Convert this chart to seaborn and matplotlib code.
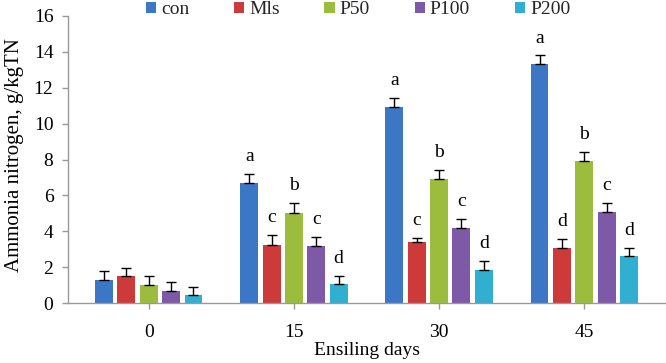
import numpy as np
import pandas as pd
import matplotlib
matplotlib.use("Agg")
import matplotlib.pyplot as plt
import seaborn as sns

# === Données ===
days = ["0", "15", "30", "45"]
treatments = ["con", "Mls", "P50", "P100", "P200"]

con = [1.30, 6.69, 10.93, 13.30]
mls = [1.49, 3.26, 3.40, 3.09]
p50 = [1.00, 5.04, 6.93, 7.92]
p100 = [0.69, 3.18, 4.18, 5.07]
p200 = [0.43, 1.04, 1.86, 2.60]

err_con = [0.48, 0.52, 0.52, 0.50]
err_mls = [0.48, 0.52, 0.25, 0.50]
err_p50 = [0.48, 0.53, 0.50, 0.50]
err_p100 = [0.48, 0.50, 0.48, 0.50]
err_p200 = [0.48, 0.48, 0.46, 0.48]

lettres_con = ["", "a", "a", "a"]
lettres_mls = ["", "c", "c", "d"]
lettres_p50 = ["", "b", "b", "b"]
lettres_p100 = ["", "c", "c", "c"]
lettres_p200 = ["", "d", "d", "d"]

couleurs = ["#3b77c4", "#cd3a3a", "#9cbc3e", "#7e59a7", "#30afd0"]

valeurs = [con, mls, p50, p100, p200]
erreurs = [err_con, err_mls, err_p50, err_p100, err_p200]
lettres = [lettres_con, lettres_mls, lettres_p50, lettres_p100, lettres_p200]

df = pd.DataFrame({
    "jour": [d for _ in treatments for d in days],
    "traitement": [t for t in treatments for _ in days],
    "valeur": [v for serie in valeurs for v in serie],
})

# === Figure ===
sns.set_theme(style="white")
plt.rcParams["font.family"] = ["Liberation Serif", "DejaVu Serif"]
plt.rcParams["font.size"] = 14
taille = 14

fig = plt.figure(figsize=(6.66, 3.63), dpi=100)
ax = fig.add_axes([68 / 666, 1 - 303 / 363, 597 / 666, 287 / 363])

sns.barplot(data=df, x="jour", y="valeur", hue="traitement", order=days,
            hue_order=treatments, palette=couleurs, saturation=1,
            width=0.77, gap=0.2, errorbar=None, linewidth=0, ax=ax)

# barres d'erreur (moitié haute) et lettres
conteneurs = list(ax.containers)
for i, cont in enumerate(conteneurs):
    for j, barre in enumerate(cont):
        x = barre.get_x() + barre.get_width() / 2
        h = barre.get_height()
        e = erreurs[i][j]
        ax.errorbar(x, h, yerr=[[0], [e]], fmt="none", ecolor="black",
                    elinewidth=1, capsize=3.5, capthick=1)
        if lettres[i][j]:
            ax.text(x, h + e + 0.72, lettres[i][j], ha="center", va="baseline",
                    fontsize=taille, color="black")

ax.set_ylim(0, 16)
ax.set_yticks(np.arange(0, 17, 2))
ax.set_ylabel("Ammonia nitrogen, g/kgTN", fontsize=15, color="black")
ax.yaxis.set_label_coords(-44 / 597, 0.516)
ax.set_xlabel("Ensiling days", fontsize=taille, labelpad=1, color="black")
ax.tick_params(axis="both", labelsize=taille, colors="#999999", labelcolor="black",
               length=4, width=1, direction="out", left=True, bottom=True)
ax.tick_params(axis="y", pad=6.5)
ax.tick_params(axis="x", pad=11)

sns.despine(ax=ax)
for s in ["left", "bottom"]:
    ax.spines[s].set_color("#999999")
    ax.spines[s].set_linewidth(1)

sns.move_legend(ax, "center", bbox_to_anchor=(358 / 666, 1 - 10 / 363),
                bbox_transform=fig.transFigure, ncol=5, frameon=False,
                title=None, fontsize=taille, handlelength=0.52, handleheight=0.52,
                handletextpad=0.26, columnspacing=2.3, borderpad=0)

fig.savefig("out.png", dpi=100)
